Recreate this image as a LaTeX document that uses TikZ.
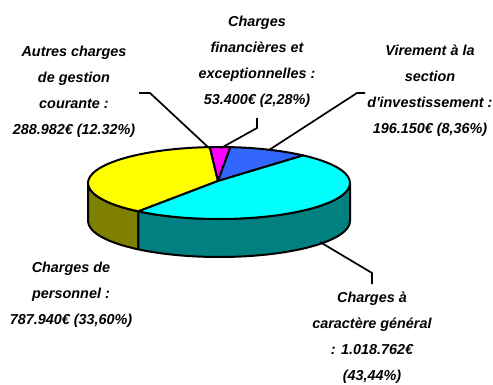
\documentclass[tikz,border=0pt]{standalone}
\usepackage{fontspec}
\setmainfont{Liberation Sans}
\usetikzlibrary{calc}
\definecolor{pieyellow}{HTML}{FFFF00}
\definecolor{piemagenta}{HTML}{FF00FF}
\definecolor{pieblue}{HTML}{3366FF}
\definecolor{piecyan}{HTML}{00FFFF}
\definecolor{pieteal}{HTML}{008080}
\definecolor{pieolive}{HTML}{808000}
\begin{document}
\begin{tikzpicture}[x=1pt,y=1pt,
  slice/.style={draw=black,line width=2pt,line join=round},
  leader/.style={draw=black,line width=1.7pt},
  lbl/.style={align=center,inner sep=0pt,font=\fontsize{14.4}{26}\selectfont\bfseries\itshape}]
\useasboundingbox (0,0) rectangle (493,-385);
\coordinate (C) at (219,-183);
\coordinate (P) at (218,-181);
% sides
\draw[slice,fill=pieolive] (C) ++(180:131 and 36) arc[start angle=180,end angle=232,x radius=131,y radius=36]
  -- ++(0,-38) arc[start angle=232,end angle=180,x radius=131,y radius=36] -- cycle;
\draw[slice,fill=pieteal] (C) ++(232:131 and 36) arc[start angle=232,end angle=360,x radius=131,y radius=36]
  -- ++(0,-38) arc[start angle=360,end angle=232,x radius=131,y radius=36] -- cycle;
% top slices
\draw[slice,fill=pieyellow] (P) -- ($(C)+(232:131 and 36)$) arc[start angle=232,end angle=94,x radius=131,y radius=36] -- cycle;
\draw[slice,fill=piemagenta] (P) -- ($(C)+(94:131 and 36)$) arc[start angle=94,end angle=85,x radius=131,y radius=36] -- cycle;
\draw[slice,fill=pieblue] (P) -- ($(C)+(85:131 and 36)$) arc[start angle=85,end angle=50,x radius=131,y radius=36] -- cycle;
\draw[slice,fill=piecyan] (P) -- ($(C)+(50:131 and 36)$) arc[start angle=50,end angle=-128,x radius=131,y radius=36] -- cycle;
% labels
\node[lbl] (autres) at (74,-92) {Autres charges\\de gestion\\courante :\\288.982€ (12.32\%)};
\node[lbl] (fin) at (257,-62) {Charges\\financières et\\exceptionnelles :\\53.400€ (2,28\%)};
\node[lbl] (vir) at (430,-91) {Virement à la\\section\\d\textquotesingle investissement :\\196.150€ (8,36\%)};
\node[lbl] (pers) at (71,-295) {Charges de\\personnel :\\787.940€ (33,60\%)};
\node[lbl] (gen) at (372,-338) {Charges à\\caractère général\\: 1.018.762€\\(43,44\%)};
% leader lines
\coordinate (a1) at (139,-93); \coordinate (a2) at (150,-93); \coordinate (a3) at (209,-148);
\coordinate (f1) at (257,-118); \coordinate (f2) at (257,-128); \coordinate (f3) at (221,-148);
\coordinate (v1) at (365,-93); \coordinate (v2) at (357,-93); \coordinate (v3) at (269,-150);
\coordinate (g1) at (320,-242); \coordinate (g2) at (372,-273); \coordinate (g3) at (372,-284);
\draw[leader] (a1) -- (a2) -- (a3);
\draw[leader] (f1) -- (f2) -- (f3);
\draw[leader] (v1) -- (v2) -- (v3);
\draw[leader] (g1) -- (g2) -- (g3);
\end{tikzpicture}
\end{document}
